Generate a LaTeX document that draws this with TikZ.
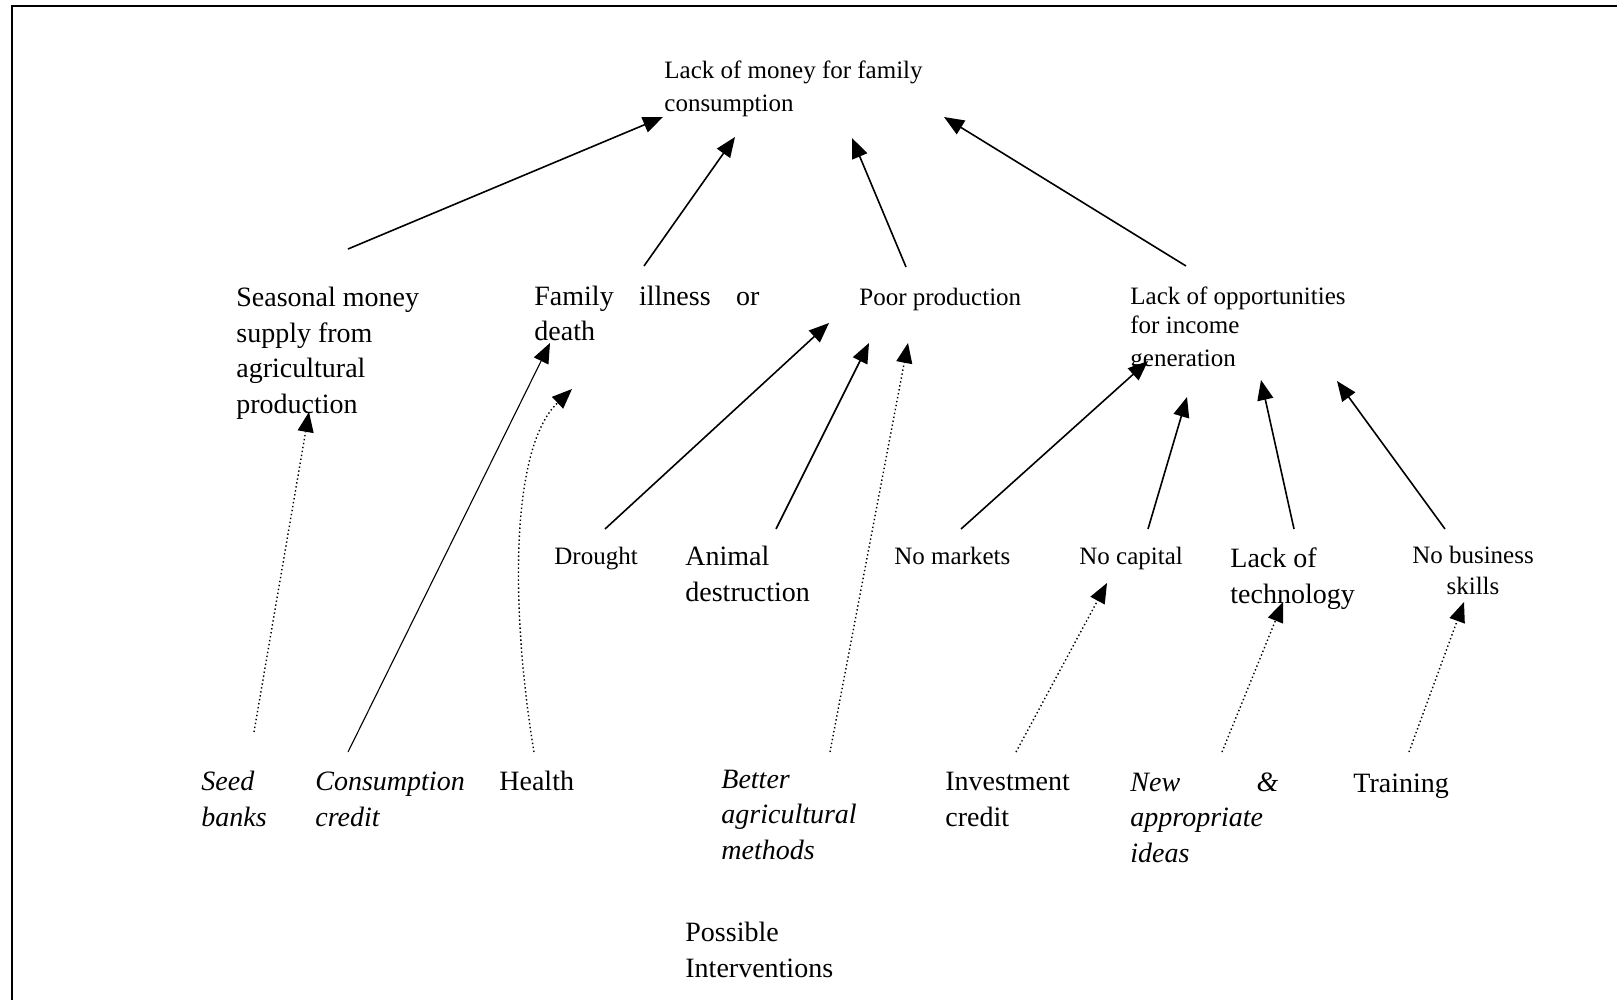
\documentclass[tikz,border=0pt]{standalone}
\usepackage{fontspec}
\setmainfont{Liberation Serif}
\usetikzlibrary{arrows.meta}
\begin{document}
\begin{tikzpicture}[x=0.5pt,y=-0.5pt,
  big/.style={font=\fontsize{14}{17.75}\selectfont, align=left, inner sep=0pt, anchor=base west},
  small/.style={font=\fontsize{12.5}{16.5}\selectfont, align=left, inner sep=0pt, anchor=base west},
  cause/.style={-{Triangle[length=10pt,width=8pt]}, line width=0.8pt},
  thinlink/.style={-{Triangle[length=10pt,width=8pt]}, line width=0.55pt},
  remedy/.style={-{Triangle[length=10pt,width=8pt]}, line width=0.7pt, dash pattern=on 0.7pt off 1.3pt},
]
\useasboundingbox (0,0) rectangle (1617,1000);
% page frame (left and top rules only)
\draw[line width=1.4pt] (12,1000) -- (12,6) -- (1617,6);

% multi-line labels are placed by the baseline of their last line

% core problem
\node[small] (core) at (664,112) {Lack of money for family\\consumption};

% causes
\node[big] (seasonal) at (236,413) {Seasonal money\\supply from\\agricultural\\production};
\node[big] (illness) at (534,341) {\makebox[112.5pt][s]{Family illness or}\\death};
\node[small] (poor) at (859,306) {Poor production};
\node[small, font=\fontsize{12.5}{14.5}\selectfont] (opport) at (1130,366) {Lack of opportunities\\for income\\[2pt]generation};

% sub-causes
\node[small] (drought) at (554,564) {Drought};
\node[big] (animal) at (685,601) {Animal\\destruction};
\node[small] (markets) at (894,564) {No markets};
\node[small] (capital) at (1079,564) {No capital};
\node[big] (tech) at (1230,603) {Lack of\\technology};
\node[small, align=center, anchor=base, font=\fontsize{12.5}{15.5}\selectfont] (skills) at (1473,594) {No business\\skills};

% interventions
\node[big] (seed) at (201,826) {\itshape Seed\\\itshape banks};
\node[big] (conscredit) at (315,826) {\itshape Consumption\\\itshape credit};
\node[big] (health) at (499,790) {Health};
\node[big] (better) at (721,859) {\itshape Better\\\itshape agricultural\\\itshape methods};
\node[big] (invest) at (945,826) {Investment\\credit};
\node[big] (ideas) at (1130,862) {\itshape\makebox[74pt][s]{New \&}\\\itshape appropriate\\\itshape ideas};
\node[big] (training) at (1353,792) {Training};
\node[big] (possible) at (685,977) {Possible\\Interventions};

% connector ends
\coordinate (coreL) at (663,117);
\coordinate (coreM) at (735,137);
\coordinate (coreN) at (852,138);
\coordinate (coreR) at (944,117);
\coordinate (seasonalTop) at (348,249);
\coordinate (illnessTop) at (644,266);
\coordinate (poorTop) at (906,267);
\coordinate (opportTop) at (1186,266);
\coordinate (seasonalBot) at (309,412);
\coordinate (illnessBotA) at (550,343);
\coordinate (illnessBotB) at (572,389);
\coordinate (poorBotA) at (829,323);
\coordinate (poorBotB) at (869,343);
\coordinate (poorBotC) at (908,343);
\coordinate (opportBotA) at (1148,361);
\coordinate (opportBotB) at (1187,397);
\coordinate (opportBotC) at (1261,380);
\coordinate (opportBotD) at (1337,381);
\coordinate (droughtTop) at (605,529);
\coordinate (animalTop) at (776,529);
\coordinate (marketsTop) at (961,529);
\coordinate (capitalTop) at (1148,529);
\coordinate (techTop) at (1294,529);
\coordinate (skillsTop) at (1445,529);
\coordinate (capitalBot) at (1107,583);
\coordinate (techBot) at (1283,602);
\coordinate (skillsBot) at (1464,602);
\coordinate (seedTop) at (254,732);
\coordinate (conscreditTop) at (348,752);
\coordinate (healthTop) at (534,752);
\coordinate (betterTop) at (830,752);
\coordinate (investTop) at (1016,752);
\coordinate (ideasTop) at (1222,752);
\coordinate (trainingTop) at (1409,752);

% causes -> core problem
\draw[cause] (seasonalTop) -- (coreL);
\draw[cause] (illnessTop) -- (coreM);
\draw[cause] (poorTop) -- (coreN);
\draw[cause] (opportTop) -- (coreR);

% sub-causes -> causes
\draw[cause] (droughtTop) -- (poorBotA);
\draw[cause] (animalTop) -- (poorBotB);
\draw[cause] (marketsTop) -- (opportBotA);
\draw[cause] (capitalTop) -- (opportBotB);
\draw[cause] (techTop) -- (opportBotC);
\draw[cause] (skillsTop) -- (opportBotD);

% interventions
\draw[remedy] (seedTop) -- (seasonalBot);
\draw[thinlink] (conscreditTop) -- (illnessBotA);
\draw[remedy] (healthTop) .. controls (512,620) and (508,450) .. (illnessBotB);
\draw[remedy] (betterTop) -- (poorBotC);
\draw[remedy] (investTop) -- (capitalBot);
\draw[remedy] (ideasTop) -- (techBot);
\draw[remedy] (trainingTop) -- (skillsBot);
\end{tikzpicture}
\end{document}
